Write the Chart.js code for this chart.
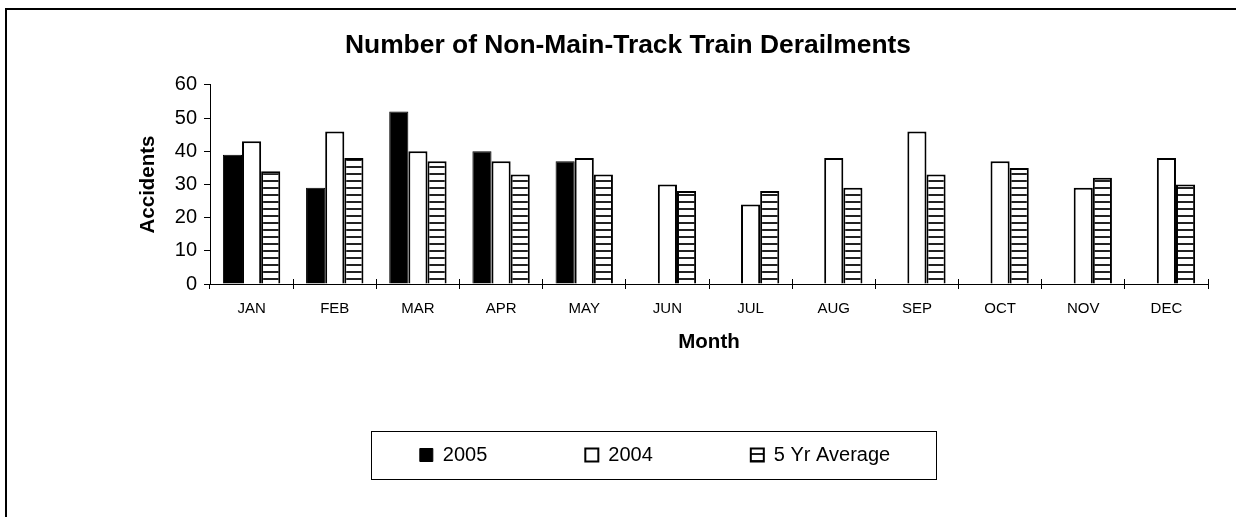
<!DOCTYPE html>
<html><head><meta charset="utf-8">
<script src="https://cdn.jsdelivr.net/npm/chart.js@4/dist/chart.umd.min.js"></script>
<style>
html,body{margin:0;padding:0;background:#fff;overflow:hidden;}
#wrap{position:relative;width:1236px;height:517px;overflow:hidden;}
#frame{position:absolute;left:5px;top:8px;width:1400px;height:700px;border-left:2px solid #000;border-top:2px solid #000;}
#c{position:absolute;left:0;top:0;}
</style></head><body>
<div id="wrap"><div id="frame"></div><canvas id="c" width="1236" height="517"></canvas></div>
<script>
const months = ['JAN','FEB','MAR','APR','MAY','JUN','JUL','AUG','SEP','OCT','NOV','DEC'];
const series2005 = [39, 29, 52, 40, 37, null, null, null, null, null, null, null];
const series2004 = [43, 46, 40, 37, 38, 30, 24, 38, 46, 37, 29, 38];
const avg5yr = [34, 38, 37, 33, 33, 28, 28, 29, 33, 35, 32, 30];
const yMin = 0, yMax = 60, yStep = 10;

const FONT = '"Liberation Sans", Arial, sans-serif';
const canvas = document.getElementById('c');
const ctx0 = canvas.getContext('2d');

function hatchPattern(){
  const c = document.createElement('canvas');
  c.width = 8; c.height = 7;
  const x = c.getContext('2d');
  x.fillStyle = '#fff'; x.fillRect(0,0,8,7);
  x.fillStyle = '#222'; x.fillRect(0,5,8,2);
  return ctx0.createPattern(c, 'repeat');
}

const LEG_PAD = 98;
const LEG_FONT = 20;
const LEG_BOX = 13;

const decor = {
  id: 'decor',
  afterLayout(chart){
    const lg = chart.legend;
    const dx = 655 - (lg.left + lg.right) / 2;
    lg.left += dx; lg.right += dx;
    const ih = Math.max(LEG_FONT, LEG_BOX);
    lg.top = 455 - LEG_PAD - ih / 2;
  },
  afterDatasetsDraw(chart){
    const xs = chart.scales.x; const ctx = chart.ctx;
    const n = xs.ticks.length; const step = xs.width / n;
    ctx.save(); ctx.strokeStyle = '#000'; ctx.lineWidth = 1;
    for (let i = 0; i <= n; i++){
      const x = Math.round(xs.left + i * step - 0.5) + 0.5;
      ctx.beginPath(); ctx.moveTo(x, xs.top - 5); ctx.lineTo(x, xs.top); ctx.stroke();
    }
    ctx.restore();
  },
  afterDraw(chart){
    const lg = chart.legend; const ctx = chart.ctx;
    const start = (lg.left + LEG_PAD + lg.right - lg.lineWidths[0]) / 2;
    const end = start + lg.lineWidths[0] - LEG_PAD;
    const ih = Math.max(LEG_FONT, LEG_BOX);
    const cy = lg.top + LEG_PAD + ih / 2;
    ctx.save(); ctx.strokeStyle = '#000'; ctx.lineWidth = 1;
    const l = Math.round(start - 49) + 0.5, r = Math.round(end + 46) + 0.5;
    const t = Math.round(cy - 24) + 0.5, b = Math.round(cy + 24) + 0.5;
    ctx.strokeRect(l, t, r - l, b - t);
    ctx.restore();
  }
};

new Chart(canvas, {
  type: 'bar',
  data: {
    labels: months,
    datasets: [
      {label: '2005', data: series2005, backgroundColor: '#000', borderColor: '#000', borderWidth: 1},
      {label: '2004', data: series2004, backgroundColor: '#fff', borderColor: '#000', borderWidth: 2},
      {label: '5 Yr Average', data: avg5yr, backgroundColor: hatchPattern(), borderColor: '#000', borderWidth: 2}
    ]
  },
  options: {
    responsive: false,
    devicePixelRatio: 1,
    animation: false,
    events: [],
    categoryPercentage: 0.69,
    barPercentage: 1.0,
    layout: {padding: {left: 48, right: 28, top: 0, bottom: 0}},
    plugins: {
      tooltip: {enabled: false},
      title: {
        display: true,
        text: 'Number of Non-Main-Track Train Derailments',
        color: '#000',
        font: {family: FONT, size: 26.4, weight: 'bold', lineHeight: 1.2},
        padding: {top: 30, bottom: 23.3}
      },
      legend: {
        display: true,
        position: 'bottom',
        labels: {
          color: '#000',
          font: {family: FONT, size: LEG_FONT},
          boxWidth: LEG_BOX, boxHeight: LEG_BOX,
          padding: LEG_PAD
        }
      }
    },
    scales: {
      x: {
        type: 'category',
        grid: {display: true, drawOnChartArea: false, drawTicks: true, tickLength: 5, color: '#000', offset: true},
        border: {display: true, color: '#000', width: 1},
        ticks: {color: '#000', font: {family: FONT, size: 15}, padding: 10.5, maxRotation: 0, autoSkip: false},
        title: {display: true, text: 'Month', color: '#000', font: {family: FONT, size: 20.5, weight: 'bold', lineHeight: 1.2}, padding: {top: 0, bottom: 34.7}},
        afterFit(s){ s.height = 105; }
      },
      y: {
        min: yMin, max: yMax,
        grid: {display: true, drawOnChartArea: false, drawTicks: true, tickLength: 6, color: '#000'},
        border: {display: true, color: '#000', width: 1},
        ticks: {stepSize: yStep, color: '#000', font: {family: FONT, size: 20}, padding: 7},
        title: {display: true, text: 'Accidents', color: '#000', font: {family: FONT, size: 20.5, weight: 'bold', lineHeight: 1.2}, padding: {top: 87.7, bottom: 0}},
        afterFit(s){ s.width = 162; }
      }
    }
  },
  plugins: [decor]
});
</script>
</body></html>
